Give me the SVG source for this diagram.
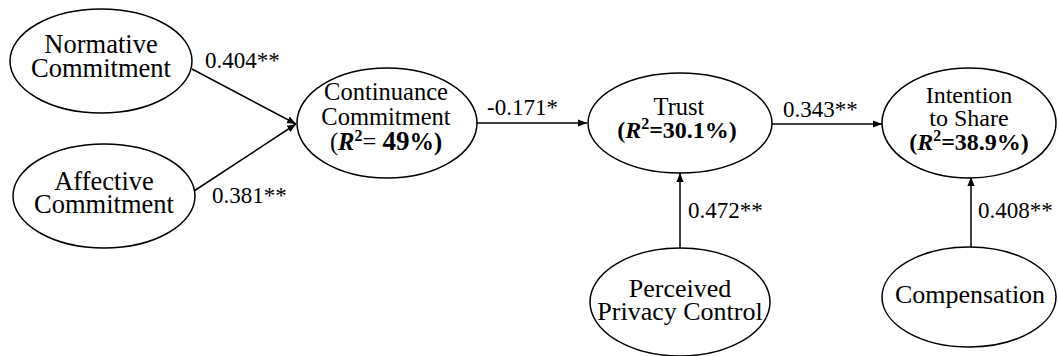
<svg xmlns="http://www.w3.org/2000/svg" width="1058" height="356" viewBox="0 0 1058 356" font-family="'Liberation Serif', 'Times New Roman', Times, 'DejaVu Serif', serif">
<defs>
<style>
.node ellipse{fill:#fff;stroke:#000;stroke-width:1.5}
.node text{font-size:25px;fill:#000;text-anchor:middle}
.edges line{stroke:#000;stroke-width:1.5}
.lbl{font-size:23px;fill:#000}
.b{font-weight:bold}
.bi{font-weight:bold;font-style:italic}
</style>
<marker id="ah" viewBox="0 0 10 10" refX="10" refY="5" markerWidth="9" markerHeight="9" markerUnits="userSpaceOnUse" orient="auto">
<path d="M0,1 L10,5 L0,9 Z" fill="#000"/>
</marker>
</defs>
<rect width="1058" height="356" fill="#fff"/>
<g class="edges">
<line x1="192" y1="69" x2="296" y2="124" marker-end="url(#ah)"/>
<line x1="194" y1="191" x2="296" y2="124" marker-end="url(#ah)"/>
<line x1="477" y1="123" x2="587" y2="123" marker-end="url(#ah)"/>
<line x1="772" y1="124" x2="882" y2="124" marker-end="url(#ah)"/>
<line x1="680" y1="248" x2="680" y2="173" marker-end="url(#ah)"/>
<line x1="971" y1="247" x2="971" y2="177" marker-end="url(#ah)"/>
<text class="lbl" x="205" y="68">0.404**</text>
<text class="lbl" x="212" y="203">0.381**</text>
<text class="lbl" x="487" y="115">-0.171*</text>
<text class="lbl" x="783" y="117">0.343**</text>
<text class="lbl" x="688" y="218">0.472**</text>
<text class="lbl" x="978" y="218">0.408**</text>
</g>
<g id="normative" class="node">
<ellipse cx="101" cy="61" rx="91" ry="52"/>
<text x="101" y="53" style="font-size:26.5px">Normative</text>
<text x="101" y="77" style="font-size:26.5px">Commitment</text>
</g>
<g id="affective" class="node">
<ellipse cx="104" cy="196" rx="91" ry="52"/>
<text x="104" y="190" style="font-size:26.5px">Affective</text>
<text x="104" y="213" style="font-size:26.5px">Commitment</text>
</g>
<g id="continuance" class="node">
<ellipse cx="387" cy="123" rx="90" ry="55"/>
<text x="386" y="100" style="font-size:24.5px">Continuance</text>
<text x="386" y="125" style="font-size:24.5px">Commitment</text>
<text x="386" y="150" style="font-size:24.5px">(<tspan class="bi">R</tspan><tspan class="b" dy="-9" font-size="16">2</tspan><tspan dy="9">= </tspan><tspan class="b" font-size="27">49</tspan><tspan class="b">%)</tspan></text>
</g>
<g id="trust" class="node">
<ellipse cx="680" cy="123" rx="92" ry="50"/>
<text x="679" y="115" style="font-size:24.5px">Trust</text>
<text x="677" y="138" style="font-size:24px" class="b">(<tspan class="bi">R</tspan><tspan dy="-9" font-size="16">2</tspan><tspan dy="9">=30.1%)</tspan></text>
</g>
<g id="intention" class="node">
<ellipse cx="969" cy="123" rx="87" ry="55"/>
<text x="969" y="103" style="font-size:24px">Intention</text>
<text x="969" y="126" style="font-size:24px">to Share</text>
<text x="969" y="150" style="font-size:24px" class="b">(<tspan class="bi">R</tspan><tspan dy="-9" font-size="16">2</tspan><tspan dy="9">=38.9%)</tspan></text>
</g>
<g id="perceived" class="node">
<ellipse cx="680" cy="302" rx="90" ry="54"/>
<text x="680" y="297" style="font-size:26px">Perceived</text>
<text x="680" y="320" style="font-size:26px">Privacy Control</text>
</g>
<g id="compensation" class="node">
<ellipse cx="969" cy="297" rx="87" ry="50"/>
<text x="970" y="303" style="font-size:26px">Compensation</text>
</g>
</svg>
